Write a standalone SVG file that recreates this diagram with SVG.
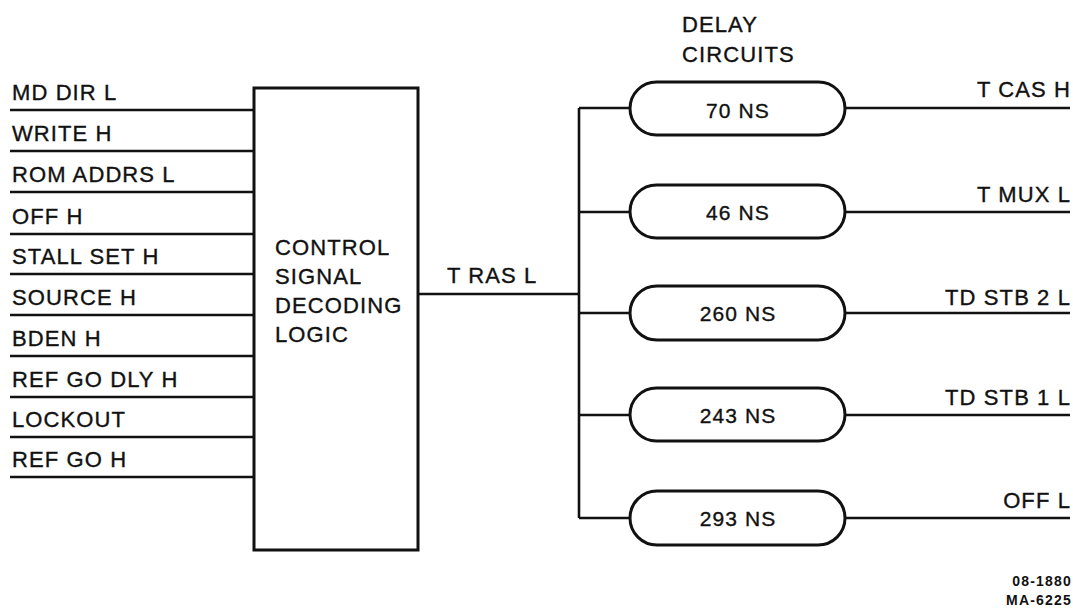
<svg xmlns="http://www.w3.org/2000/svg" width="1073" height="608" viewBox="0 0 1073 608">
<style>
text{font-family:"Liberation Sans",Arial,sans-serif;font-size:22px;fill:#111;stroke:#111;stroke-width:0.35;letter-spacing:1.1px}
.l{stroke:#111;stroke-width:2.6;fill:none}
.b{stroke:#111;stroke-width:3;fill:#fff}
.c{text-anchor:middle;font-size:21px}
.r{text-anchor:end}
.s{font-size:14px;font-weight:bold;letter-spacing:1.2px;stroke-width:0;text-anchor:end}
</style>
<rect width="1073" height="608" fill="#fff"/>
<g id="connectors">
<path class="l" d="M10 110H254M10 151H254M10 192H254M10 234H254M10 274H254M10 315H254M10 356H254M10 397H254M10 437H254M10 477H254"/>
<path class="l" d="M418 294H579M579 108V518M579 108H630M579 212H630M579 313H630M579 415H630M579 518H630"/>
<path class="l" d="M845 108H1070M845 212H1070M845 313H1070M845 415H1070M845 518H1070"/>
</g>
<g id="inputs">
<text x="12" y="100">MD DIR L</text>
<text x="12" y="141">WRITE H</text>
<text x="12" y="182">ROM ADDRS L</text>
<text x="12" y="224">OFF H</text>
<text x="12" y="264">STALL SET H</text>
<text x="12" y="305">SOURCE H</text>
<text x="12" y="346">BDEN H</text>
<text x="12" y="387">REF GO DLY H</text>
<text x="12" y="427">LOCKOUT</text>
<text x="12" y="467">REF GO H</text>
</g>
<g id="decoder">
<rect class="b" x="254" y="88" width="164" height="462"/>
<text x="275" y="255">CONTROL</text>
<text x="275" y="284">SIGNAL</text>
<text x="275" y="313">DECODING</text>
<text x="275" y="342">LOGIC</text>
</g>
<text id="tras" x="447" y="283">T RAS L</text>
<g id="delay-title">
<text x="682" y="32">DELAY</text>
<text x="682" y="62">CIRCUITS</text>
</g>
<g id="d70"><rect class="b" x="630" y="82" width="215" height="53" rx="26.5"/><text class="c" x="738" y="118">70 NS</text></g>
<g id="d46"><rect class="b" x="630" y="185" width="215" height="53" rx="26.5"/><text class="c" x="738" y="220">46 NS</text></g>
<g id="d260"><rect class="b" x="630" y="286" width="215" height="54" rx="27"/><text class="c" x="738" y="321">260 NS</text></g>
<g id="d243"><rect class="b" x="630" y="388" width="215" height="53" rx="26.5"/><text class="c" x="738" y="423">243 NS</text></g>
<g id="d293"><rect class="b" x="630" y="491" width="215" height="54" rx="27"/><text class="c" x="738" y="526">293 NS</text></g>
<g id="outputs">
<text class="r" x="1071" y="97">T CAS H</text>
<text class="r" x="1071" y="202">T MUX L</text>
<text class="r" x="1071" y="305">TD STB 2 L</text>
<text class="r" x="1071" y="405">TD STB 1 L</text>
<text class="r" x="1071" y="508">OFF L</text>
</g>
<text class="s" x="1072" y="586">08-1880</text>
<text class="s" x="1072" y="605">MA-6225</text>
</svg>
